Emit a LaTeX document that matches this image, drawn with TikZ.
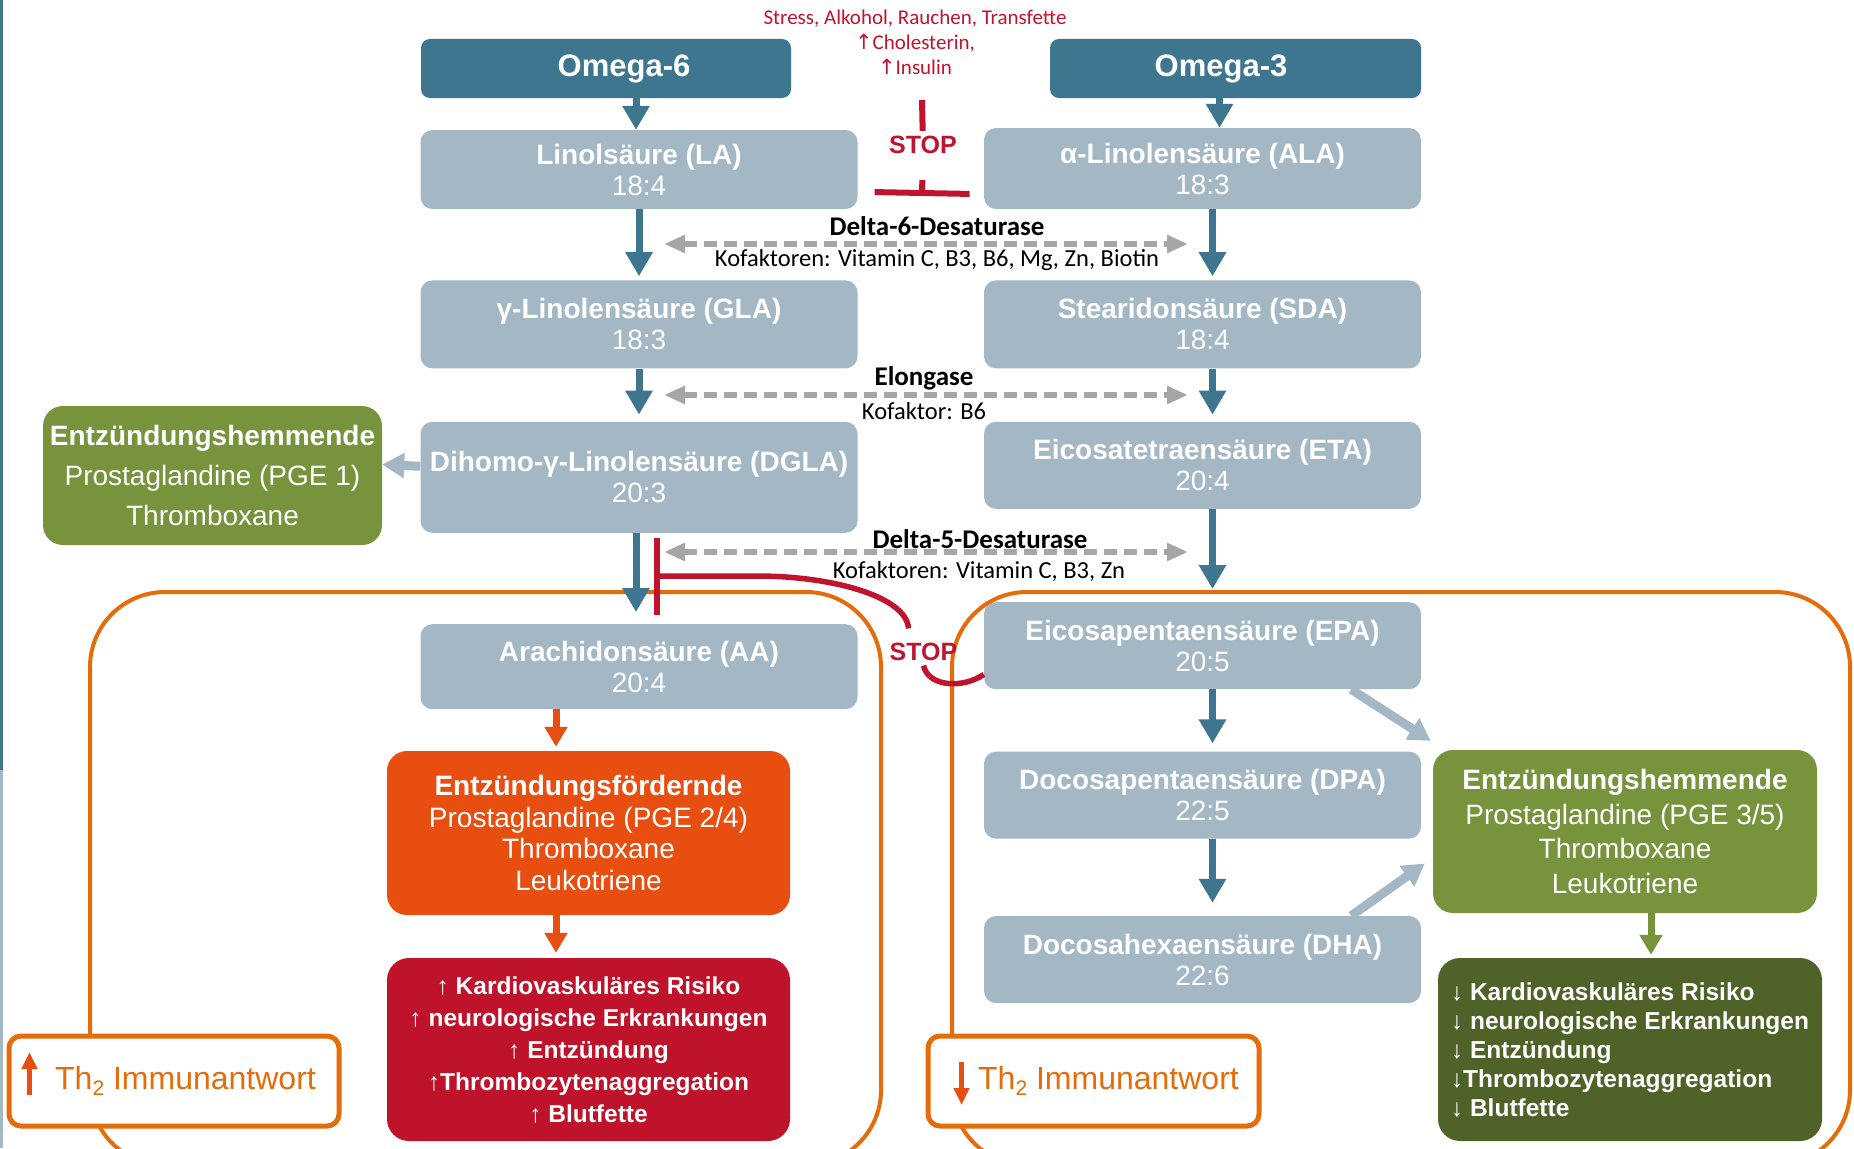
\documentclass[tikz,border=0pt]{standalone}
\usepackage{fontspec}
\setmainfont{Liberation Sans}
\newfontfamily\calfont{Carlito}
\newfontfamily\symfont{DejaVu Sans}
\usetikzlibrary{arrows.meta, positioning, calc}

\definecolor{omegablue}{RGB}{62,117,143}
\definecolor{acidgray}{RGB}{163,183,197}
\definecolor{hemmgreen}{RGB}{119,147,60}
\definecolor{darkgreen}{RGB}{79,98,40}
\definecolor{foerdorange}{RGB}{232,78,16}
\definecolor{riskred}{RGB}{190,19,43}
\definecolor{stopred}{RGB}{192,20,46}
\definecolor{frameorange}{RGB}{228,108,10}
\definecolor{enzgray}{RGB}{166,166,166}

\newcommand{\hoch}{{\mdseries ↑}}
\newcommand{\runter}{{\mdseries ↓}}

\tikzset{%
	omega/.style={fill=omegablue, text=white, rounded corners=9pt, minimum width=370pt,%
		minimum height=59pt, inner sep=0pt, font=\fontsize{31}{34}\selectfont\bfseries},
	acid/.style={fill=acidgray, text=white, rounded corners=12pt, minimum width=437pt,%
		minimum height=87pt, inner sep=0pt, align=center, font=\fontsize{28}{31}\selectfont},
	effect/.style={text=white, rounded corners=20pt, inner sep=0pt, align=center},
	risk/.style={text=white, rounded corners=22pt, inner sep=0pt, minimum width=403pt,%
		minimum height=183pt, font=\fontsize{24.5}{32}\selectfont\bfseries},
	immun/.style={draw=frameorange, line width=5pt, fill=white, rounded corners=12pt,%
		minimum width=330pt, minimum height=90pt, inner sep=0pt, text=frameorange,%
		font=\fontsize{32}{36}\selectfont},
	enz/.style={inner sep=0pt, font=\calfont\fontsize{27}{30}\selectfont\bfseries},
	kof/.style={inner sep=0pt, font=\calfont\fontsize{24.5}{28}\selectfont},
	stoptext/.style={text=stopred, inner sep=5pt, font=\fontsize{25}{28}\selectfont\bfseries},
	flow/.style={-{Triangle[width=26pt,length=24pt]}, line width=7pt, draw=omegablue},
	light/.style={-{Triangle[width=24pt,length=22pt]}, line width=9pt, draw=acidgray},
	hot/.style={-{Triangle[width=22pt,length=20pt]}, line width=7pt, draw=foerdorange},
	calm/.style={-{Triangle[width=22pt,length=20pt]}, line width=7pt, draw=hemmgreen},
	enzline/.style={{Triangle[width=17pt,length=21pt]}-{Triangle[width=17pt,length=21pt]},%
		line width=6pt, draw=enzgray, dash pattern=on 13pt off 7pt},
	inhib/.style={draw=stopred, line width=6pt},
	region/.style={draw=frameorange, line width=4pt, rounded corners=75pt},
	thpfeil/.style={-{Triangle[width=15pt,length=17pt]}, line width=4.5pt, draw=foerdorange}
}

\begin{document}
\begin{tikzpicture}[x=1pt, y=-1pt]
	\useasboundingbox (0,0) rectangle (1854,1148);
	\fill[omegablue] (0,0) rectangle (3,770);
	\fill[acidgray] (0,770) rectangle (3,1148);

	\node[omega] (o6) at (606,68.5) {\hspace*{36pt}Omega-6};
	\node[omega, minimum width=371pt] (o3) at (1235.5,68.5) {Omega-3\hspace*{29pt}};

	\node[acid, minimum height=79pt] (la) at (639,169.5) {\textbf{Linolsäure (LA)}\\18:4};
	\node[acid, minimum height=88pt, below=71pt of la] (gla) {\textbf{γ-Linolensäure (GLA)}\\18:3};
	\node[acid, minimum height=111pt, below=53pt of gla] (dgla) {\textbf{Dihomo-γ-Linolensäure (DGLA)}\\20:3};
	\node[acid, minimum height=85pt, below=91pt of dgla] (aa) {\textbf{Arachidonsäure (AA)}\\20:4};

	\node[acid, minimum height=81pt] (ala) at (1202.5,168.5) {\textbf{α-Linolensäure (ALA)}\\18:3};
	\node[acid, minimum height=88pt, below=71pt of ala] (sda) {\textbf{Stearidonsäure (SDA)}\\18:4};
	\node[acid, below=53pt of sda] (eta) {\textbf{Eicosatetraensäure (ETA)}\\20:4};
	\node[acid, below=93pt of eta] (epa) {\textbf{Eicosapentaensäure (EPA)}\\20:5};
	\node[acid, below=62pt of epa] (dpa) {\textbf{Docosapentaensäure (DPA)}\\22:5};
	\node[acid, below=77pt of dpa] (dha) {\textbf{Docosahexaensäure (DHA)}\\22:6};

	\node[effect, fill=hemmgreen, minimum width=339pt, minimum height=139pt,%
		font=\fontsize{28}{40}\selectfont] (hemm1) at (212.5,475.5)
		{\textbf{Entzündungshemmende}\\Prostaglandine (PGE 1)\\Thromboxane};
	\node[effect, fill=foerdorange, minimum width=403pt, minimum height=164pt,%
		font=\fontsize{28}{31.7}\selectfont] (foerd) at (588.5,833)
		{\textbf{Entzündungsfördernde}\\Prostaglandine (PGE 2/4)\\Thromboxane\\Leukotriene};
	\node[effect, fill=hemmgreen, minimum width=384pt, minimum height=163pt,%
		font=\fontsize{28}{34.7}\selectfont] (hemm2) at (1625,831.5)
		{\textbf{Entzündungshemmende}\\Prostaglandine (PGE 3/5)\\Thromboxane\\Leukotriene};
	\node[risk, fill=riskred, align=center] (risikohoch) at (588.5,1049.5)
		{\hoch{} Kardiovaskuläres Risiko\\\hoch{} neurologische Erkrankungen\\\hoch{} Entzündung\\%
		\hoch{}Thrombozytenaggregation\\\hoch{} Blutfette};
	\node[risk, fill=darkgreen, minimum width=384pt, align=left,%
		font=\fontsize{24.5}{29}\selectfont\bfseries] (risikotief) at (1630,1049.5)
		{\runter{} Kardiovaskuläres Risiko\\\runter{} neurologische Erkrankungen\\\runter{} Entzündung\\%
		\runter{}Thrombozytenaggregation\\\runter{} Blutfette};

	% orange Bereiche
	\draw[region] (90,592) rectangle (881,1165);
	\draw[region] (952,592) rectangle (1850,1165);

	\node[immun] (th2links) at (174,1081) {\hspace*{23pt}Th\raisebox{-6pt}{\fontsize{21}{21}\selectfont 2} Immunantwort};
	\node[immun, minimum width=331pt] (th2rechts) at (1093.5,1081) {\hspace*{30pt}Th\raisebox{-6pt}{\fontsize{21}{21}\selectfont 2} Immunantwort};
	\draw[thpfeil] ([xshift=23pt,yshift=-14pt]th2links.west) -- ([xshift=23pt,yshift=29pt]th2links.west);
	\draw[thpfeil] ([xshift=36pt,yshift=19pt]th2rechts.west) -- ([xshift=36pt,yshift=-24pt]th2rechts.west);

	% Enzyme
	\coordinate (d6links) at (664,244);
	\coordinate (d6rechts) at (1188,244);
	\coordinate (elolinks) at (664,395);
	\coordinate (elorechts) at (1188,395);
	\coordinate (d5links) at (664,552);
	\coordinate (d5rechts) at (1188,552);
	\draw[enzline] (d6links) -- (d6rechts);
	\draw[enzline] (elolinks) -- (elorechts);
	\draw[enzline] (d5links) -- (d5rechts);
	\node[enz] (d6) at (937,226) {Delta-6-Desaturase};
	\node[kof] (kof6) at (937,260) {Kofaktoren: Vitamin C, B3, B6, Mg, Zn, Biotin};
	\node[enz] (elo) at (924,378) {Elongase};
	\node[kof] (kofelo) at (924,411) {Kofaktor: B6};
	\node[enz] (d5) at (980,539) {Delta-5-Desaturase};
	\node[kof] (kof5) at (979,572) {Kofaktoren: Vitamin C, B3, Zn};

	% Stoffwechsel
	\draw[flow] ([xshift=30pt]o6.south) -- ([xshift=30pt]o6.south |- la.north);
	\draw[flow, shorten >=4pt] (la) -- (gla);
	\draw[flow, shorten >=7pt] (gla) -- (dgla);
	\draw[flow, shorten >=12pt] ([xshift=-3pt]dgla.south) -- ([xshift=-3pt]aa.north);
	\draw[flow] ([xshift=-16pt]o3.south) -- ([xshift=-16pt]o3.south |- ala.north);
	\draw[flow, shorten >=4pt] ([xshift=10pt]ala.south) -- ([xshift=10pt]sda.north);
	\draw[flow, shorten >=7pt] ([xshift=10pt]sda.south) -- ([xshift=10pt]eta.north);
	\draw[flow, shorten >=13pt] ([xshift=10pt]eta.south) -- ([xshift=10pt]epa.north);
	\draw[flow, shorten >=8pt] ([xshift=10pt]epa.south) -- ([xshift=10pt]dpa.north);
	\draw[flow, shorten >=13pt] ([xshift=10pt]dpa.south) -- ([xshift=10pt]dha.north);

	\draw[light] ([yshift=11pt]dgla.west) -- ([yshift=11pt]hemm1.east);
	\draw[light] ([xshift=-70pt]epa.south east) -- ([xshift=-2pt,yshift=9pt]hemm2.north west);
	\draw[light] ([xshift=-70pt]dha.north east) -- ([xshift=-8pt,yshift=-32pt]hemm2.west);

	\draw[hot, shorten >=4pt] ([xshift=-83pt]aa.south) -- ([xshift=-83pt]aa.south |- foerd.north);
	\draw[hot, shorten >=5pt] ([xshift=-32.5pt]foerd.south) -- ([xshift=-32.5pt]risikohoch.north);
	\draw[calm, shorten >=3pt] ([xshift=26pt]hemm2.south) -- ([xshift=21pt]risikotief.north);

	% STOP
	\node[text=stopred, align=center, inner sep=0pt,%
		font=\calfont\fontsize{21}{25}\selectfont] (ausloeser) at (915,42)
		{Stress, Alkohol, Rauchen, Transfette\\{\symfont ↑}Cholesterin,\\{\symfont ↑}Insulin};
	\node[stoptext] (stop1) at (923,145) {STOP};
	\node[stoptext] (stop2) at (923.5,651.5) {STOP};
	\coordinate (stopin) at (922,100);
	\coordinate (bar1) at (922,196);
	\coordinate (bar2) at (654,576);
	\draw[inhib] (stopin) -- (stop1);
	\draw[inhib, -{Bar[width=95pt]}, shorten <=21pt] (stop1) -- (bar1);
	\draw[inhib, line width=5.5pt, {Bar[width=77pt]}-] (bar2) -- ++(103,0)
		.. controls +(75,0) and +(-2,-32) .. ([xshift=-15pt,yshift=9pt]stop2.north);
	\draw[inhib, line width=5.5pt] (stop2.south) .. controls +(5,22) and +(-20,14) .. ([yshift=15pt]epa.south west);
\end{tikzpicture}
\end{document}
